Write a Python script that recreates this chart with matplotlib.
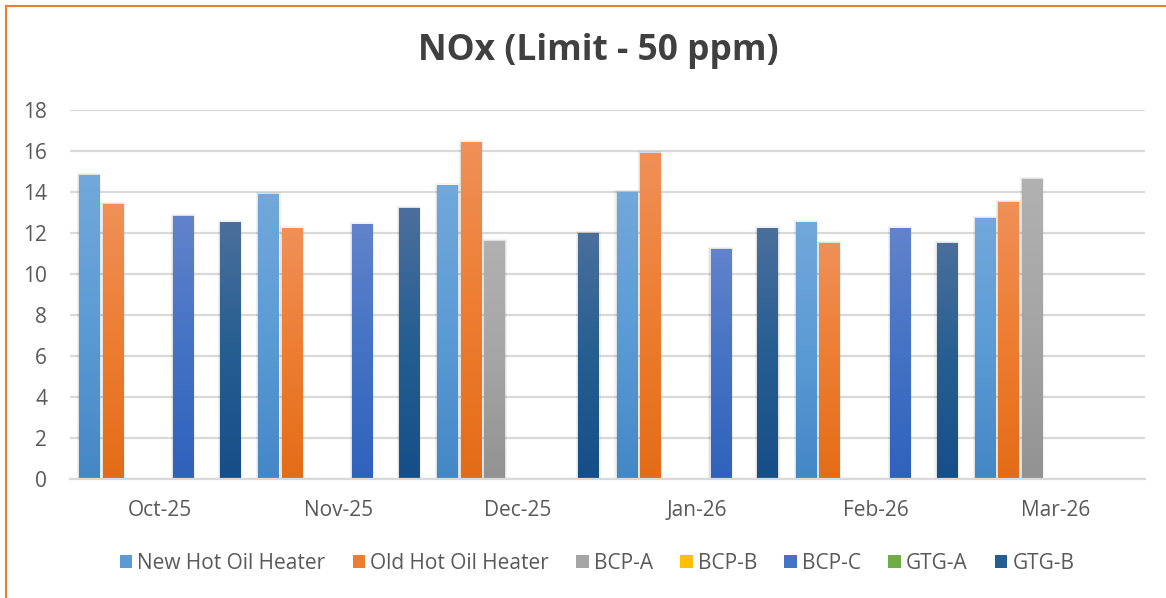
import matplotlib.pyplot as plt
import numpy as np
from matplotlib.colors import LinearSegmentedColormap
from matplotlib.patches import Patch, Rectangle
from matplotlib.lines import Line2D

plt.rcParams['font.family'] = ['Open Sans', 'DejaVu Sans']

# 數據
months = ['Oct-25', 'Nov-25', 'Dec-25', 'Jan-26', 'Feb-26', 'Mar-26']
series_names = ['New Hot Oil Heater', 'Old Hot Oil Heater', 'BCP-A', 'BCP-B',
                'BCP-C', 'GTG-A', 'GTG-B']
nan = np.nan
new_hot_oil = [14.8, 13.9, 14.3, 14.0, 12.5, 12.7]
old_hot_oil = [13.4, 12.2, 16.4, 15.9, 11.5, 13.5]
bcp_a = [nan, nan, 11.6, nan, nan, 14.6]
bcp_b = [nan, nan, nan, nan, nan, nan]
bcp_c = [12.8, 12.4, nan, 11.2, 12.2, nan]
gtg_a = [nan, nan, nan, nan, nan, nan]
gtg_b = [12.5, 13.2, 12.0, 12.2, 11.5, nan]
all_series = [new_hot_oil, old_hot_oil, bcp_a, bcp_b, bcp_c, gtg_a, gtg_b]

# 顏色 (base, top, bottom) - Excel 漸層
base_colors = ['#5B9BD5', '#ED7D31', '#A5A5A5', '#FFC000', '#4472C4', '#70AD47', '#255E91']
top_colors = ['#72A8DB', '#F09058', '#B1B1B1', '#FFCD40', '#6283CC', '#86BA66', '#4B6F9C']
bottom_colors = ['#4487C6', '#E46C17', '#929292', '#E6AC00', '#2F62BC', '#5F9A3B', '#164F88']

fig = plt.figure(figsize=(11.66, 5.98), dpi=100)
ax = fig.add_axes([70 / 1166, 119 / 598, 1075 / 1166, 369 / 598])

x = np.arange(len(months))
slot = 0.131
width = 0.112
grad = np.linspace(0, 1, 256).reshape(-1, 1)

for i, vals in enumerate(all_series):
    cmap = LinearSegmentedColormap.from_list('g%d' % i,
                                             [bottom_colors[i], base_colors[i], top_colors[i]])
    for k, v in enumerate(vals):
        if np.isnan(v):
            continue
        x0 = x[k] + (i - 3) * slot - width / 2
        # 陰影
        ax.add_patch(Rectangle((x0 - 0.012, 0), width + 0.024, v + 0.12,
                               color='#000000', alpha=0.05, lw=0, zorder=1.5))
        ax.add_patch(Rectangle((x0 - 0.006, 0), width + 0.012, v + 0.06,
                               color='#000000', alpha=0.07, lw=0, zorder=1.6))
        ax.imshow(grad, extent=(x0, x0 + width, 0, v), cmap=cmap,
                  aspect='auto', zorder=2, vmin=0, vmax=1, origin='lower')

ax.set_xlim(-0.5, 5.5)
ax.set_ylim(0, 18)
ax.set_yticks(np.arange(0, 19, 2))
ax.set_xticks(x)
ax.set_xticklabels(months)
ax.tick_params(axis='both', length=0, labelsize=15, colors='#595959')
ax.tick_params(axis='y', pad=16.5)
ax.tick_params(axis='x', pad=15)
ax.yaxis.grid(True, color='#D9D9D9', linewidth=1.6, zorder=0)
ax.set_axisbelow(True)
for s in ['top', 'right', 'left']:
    ax.spines[s].set_visible(False)
ax.spines['bottom'].set_color('#D9D9D9')
ax.spines['bottom'].set_linewidth(1.6)

fig.text(0.513, 0.915, 'NOx (Limit - 50 ppm)', ha='center', va='center',
         fontsize=25.5, fontweight='bold', color='#404040')

handles = [Patch(facecolor=c, edgecolor='none') for c in base_colors]
fig.legend(handles, series_names, loc='center', bbox_to_anchor=(0.512, 0.058),
           ncol=7, frameon=False, fontsize=15, handlelength=0.6, handleheight=0.6,
           handletextpad=0.25, columnspacing=1.3, labelcolor='#595959')

# 橘色外框（左、上）
fig.add_artist(Line2D([5.5 / 1166, 5.5 / 1166], [0, 1 - 5.5 / 598], color='#ED7D31',
                      lw=1.5, transform=fig.transFigure))
fig.add_artist(Line2D([5.5 / 1166, 1], [1 - 5.5 / 598, 1 - 5.5 / 598], color='#ED7D31',
                      lw=1.5, transform=fig.transFigure))

fig.savefig('out.png', dpi=100)
